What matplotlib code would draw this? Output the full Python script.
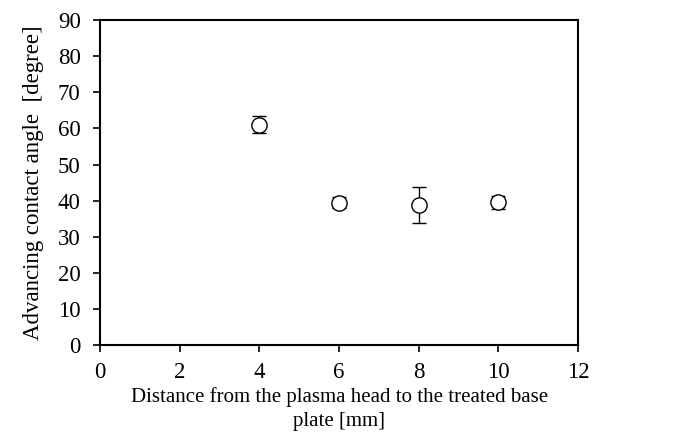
import matplotlib
matplotlib.use("Agg")
import matplotlib.pyplot as plt

# distance [mm] vs advancing contact angle [degree]
distance = [4, 6, 8, 10]
angle = [61.0, 39.4, 38.9, 39.5]
err = [2.3, 1.5, 5.0, 1.7]

plt.rcParams['font.family'] = ['Liberation Serif', 'DejaVu Serif']

fig = plt.figure(figsize=(6.81, 4.37), dpi=100)
ax = fig.add_axes([0.147, 0.2105, 0.702, 0.7435])

ax.errorbar(distance, angle, yerr=err, fmt='o', mfc='white', mec='black',
            ecolor='black', ms=11, mew=1.0, elinewidth=1.0, capsize=5, capthick=1.0, zorder=3)

ax.set_xlim(0, 12)
ax.set_ylim(0, 90)
ax.set_xticks(range(0, 13, 2))
ax.set_yticks(range(0, 91, 10))
ax.tick_params(direction='out', length=5, width=1.2, labelsize=16.5)
ax.tick_params(axis='x', pad=7)
ax.tick_params(axis='y', pad=9)
for s in ax.spines.values():
    s.set_linewidth(1.5)

ax.set_xlabel("Distance from the plasma head to the treated base\nplate [mm]", fontsize=15, labelpad=3, linespacing=1.4)
ax.set_ylabel("Advancing contact angle  [degree]", fontsize=16.5, labelpad=10)

fig.savefig("out.png", dpi=100)
